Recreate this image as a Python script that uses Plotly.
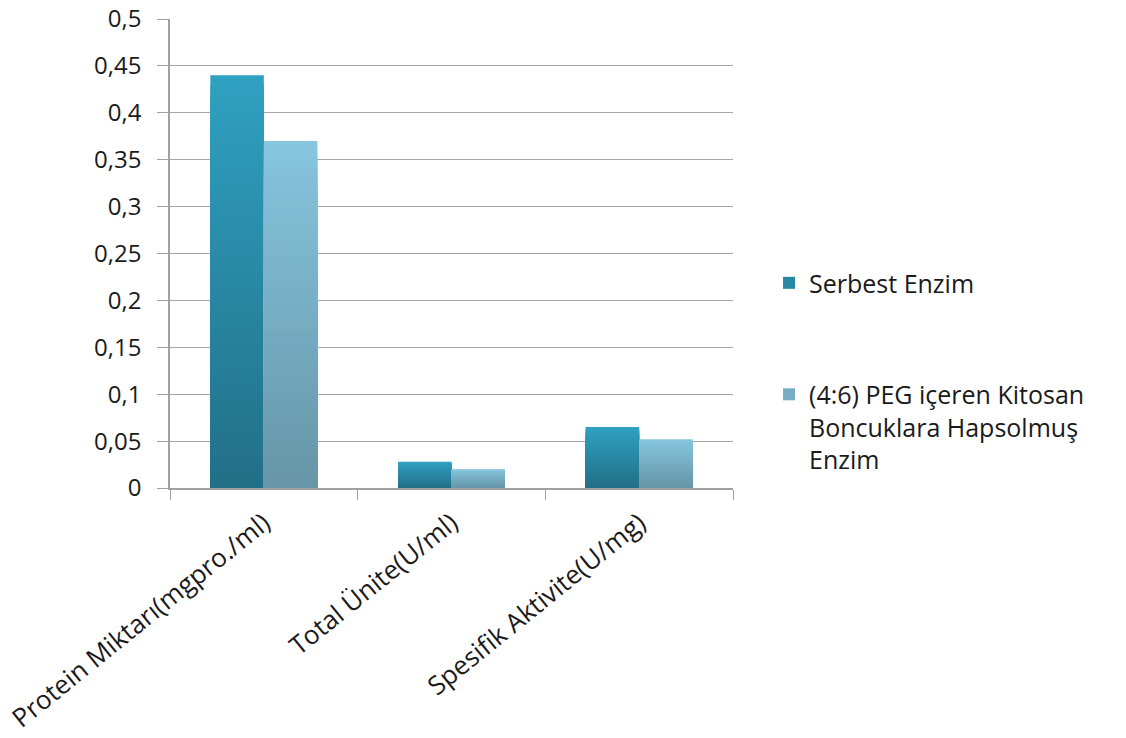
import plotly.graph_objects as go

categories = ["Protein Miktarı(mgpro./ml)", "Total Ünite(U/ml)", "Spesifik Aktivite(U/mg)"]
serbest = [0.44, 0.028, 0.065]
peg = [0.37, 0.020, 0.052]
series_names = ["Serbest Enzim", "(4:6) PEG içeren Kitosan<br>Boncuklara Hapsolmuş<br>Enzim"]
y_ticks = [0, 0.05, 0.1, 0.15, 0.2, 0.25, 0.3, 0.35, 0.4, 0.45, 0.5]

# top / bottom colours of the vertical gradient for each series
gradients = [((47, 160, 192), (34, 112, 136)), ((134, 197, 221), (102, 150, 168))]
STEPS = 40


def mix(c1, c2, t):
    return "rgb(%d,%d,%d)" % tuple(round(a + (b - a) * t) for a, b in zip(c1, c2))


fig = go.Figure()
for s, (name, values) in enumerate(zip(series_names, [serbest, peg])):
    top, bottom = gradients[s]
    # stacked-over bars, each shorter and darker, give a top-to-bottom gradient
    for k in range(STEPS):
        frac = (STEPS - k) / STEPS
        fig.add_trace(go.Bar(
            x=categories,
            y=[v * frac for v in values],
            name=name,
            offsetgroup=str(s),
            legendgroup=str(s),
            showlegend=(k == STEPS // 2),
            marker=dict(color=mix(top, bottom, k / (STEPS - 1)), line=dict(width=0)),
            hoverinfo="skip",
        ))

font_family = "'Open Sans', sans-serif"

fig.update_layout(
    width=1126,
    height=738,
    margin=dict(l=170, r=393, t=19, b=250),
    paper_bgcolor="white",
    plot_bgcolor="white",
    barmode="group",
    bargap=0.43,
    bargroupgap=0,
    separators=",.",
    font=dict(family=font_family, size=21, color="#1a1a1a"),
    legend=dict(
        x=1.064, xanchor="left", y=0.486, yanchor="top",
        valign="top", tracegroupgap=76, traceorder="grouped",
        font=dict(family=font_family, size=25, color="#1a1a1a"),
        itemwidth=30,
    ),
    xaxis=dict(
        type="category",
        tickangle=-39,
        tickson="boundaries",
        ticks="outside",
        ticklen=10,
        tickcolor="#a0a0a0",
        showline=True,
        linecolor="#a0a0a0",
        linewidth=1.5,
        showgrid=False,
        automargin=False,
        ticklabelstandoff=8,
        tickfont=dict(family=font_family, size=26),
    ),
    yaxis=dict(
        range=[0, 0.5],
        tickvals=y_ticks,
        ticks="outside",
        ticklen=11,
        tickcolor="#a0a0a0",
        showline=True,
        linecolor="#a0a0a0",
        linewidth=1.5,
        showgrid=True,
        gridcolor="#a6a6a6",
        gridwidth=1.3,
        zeroline=False,
        automargin=False,
        ticklabelstandoff=11,
        tickfont=dict(family=font_family, size=24),
    ),
)

fig.write_html("out.html")
